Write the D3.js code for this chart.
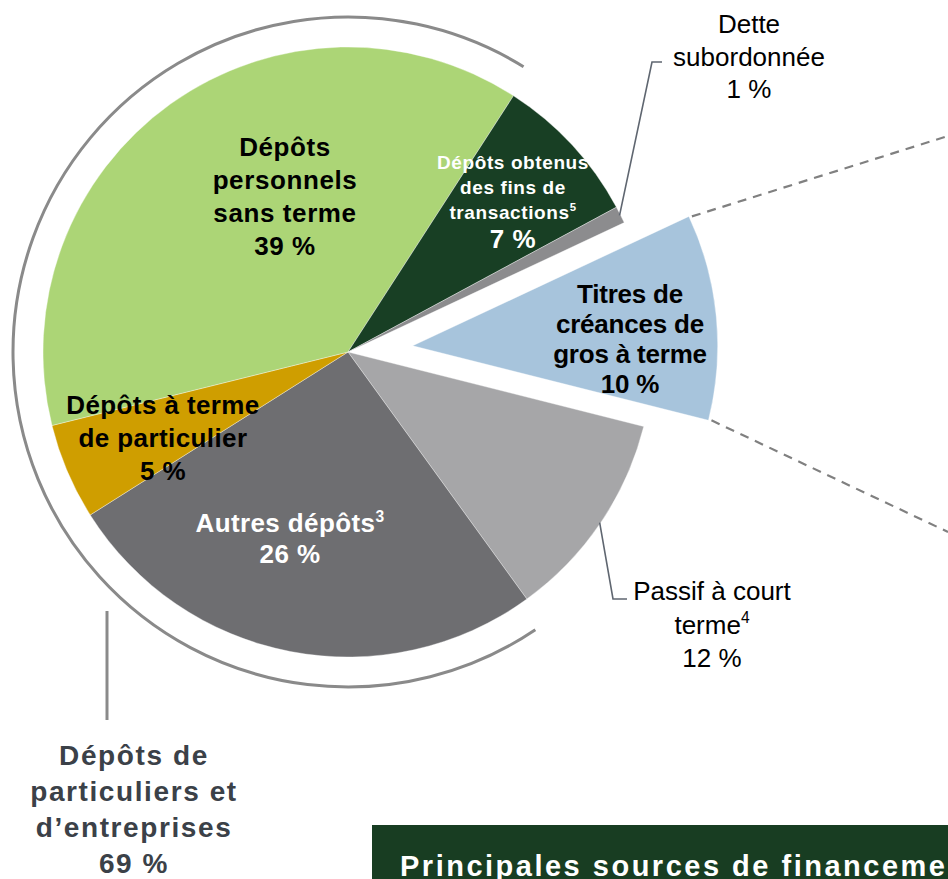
<!DOCTYPE html>
<html>
<head>
<meta charset="utf-8">
<script src="https://cdn.jsdelivr.net/npm/d3@7"></script>
<style>
  html, body { margin: 0; padding: 0; background: #fff; }
  svg { display: block; font-family: "Liberation Sans", Arial, sans-serif; }
</style>
</head>
<body>
<svg id="funding-pie" width="948" height="879"></svg>
<script>
// Funding mix pie - slices in drawing order, clockwise from the exploded one
const categories = ["Titres de créances de gros à terme", "Passif à court terme", "Autres dépôts",
  "Dépôts à terme de particulier", "Dépôts personnels sans terme",
  "Dépôts obtenus des fins de transactions", "Dette subordonnée"];
const sliceShares = [10.9, 11.1, 26, 5.1, 38, 8, 0.9];   // share of the circle as drawn
const percentLabels = ["10 %", "12 %", "26 %", "5 %", "39 %", "7 %", "1 %"];
const footnotes = [null, "4", "3", null, null, "5", null];
const sliceColors = ["#a7c4dc", "#a6a6a8", "#6e6e71", "#cf9e00", "#acd576", "#183f24", "#8c8c8e"];
const groupLabel = ["Dépôts de", "particuliers et", "d’entreprises", "69 %"];
const footerTitle = "Principales sources de financement";

const svg = d3.select("#funding-pie");
const cx = 348, cy = 352, R = 305, explode = 65;
const deg = Math.PI / 180;
const start = 64.9 * deg;

const pie = d3.pie().value(d => d).sort(null).startAngle(start).endAngle(start + 2 * Math.PI);
const arc = d3.arc().innerRadius(0).outerRadius(R);
const pieData = pie(sliceShares);

function offsetOf(d, i) {
  if (i !== 0) return [0, 0];
  const mid = (d.startAngle + d.endAngle) / 2;
  return [explode * Math.sin(mid), -explode * Math.cos(mid)];
}
function pointAt(a, r, off) {
  return [cx + off[0] + r * Math.sin(a), cy + off[1] - r * Math.cos(a)];
}

const g = svg.append("g");
g.selectAll("path.slice").data(pieData).enter().append("path")
  .attr("class", "slice")
  .attr("transform", (d, i) => { const o = offsetOf(d, i); return `translate(${cx + o[0]},${cy + o[1]})`; })
  .attr("d", arc)
  .attr("fill", (d, i) => sliceColors[i])
  .attr("stroke", "#fff").attr("stroke-width", 0.6).attr("stroke-opacity", 0.6);

// dashed lines from the exploded slice towards the right
const ex = pieData[0], exOff = offsetOf(ex, 0);
const dashTargets = [[948, 136], [948, 532]];
[ex.startAngle, ex.endAngle].forEach((a, k) => {
  const p = pointAt(a, R, exOff);
  svg.append("line").attr("x1", p[0] + 3).attr("y1", p[1]).attr("x2", dashTargets[k][0]).attr("y2", dashTargets[k][1])
    .attr("stroke", "#808080").attr("stroke-width", 2.2).attr("stroke-dasharray", "9,7");
});

// bracket arc around the deposit slices
const bracket = d3.arc().innerRadius(335).outerRadius(335).startAngle(146 * deg).endAngle(391.6 * deg);
svg.append("path").attr("transform", `translate(${cx},${cy})`).attr("d", bracket)
  .attr("fill", "none").attr("stroke", "#8a8a8a").attr("stroke-width", 3);
svg.append("line").attr("x1", 107).attr("y1", 611).attr("x2", 107).attr("y2", 720)
  .attr("stroke", "#8a8a8a").attr("stroke-width", 3);

// leader lines for outside labels
function leader(i, pts) {
  const d = pieData[i];
  const p = pointAt((d.startAngle + d.endAngle) / 2, R - 1, [0, 0]);
  svg.append("polyline").attr("points", [p].concat(pts).map(q => q.join(",")).join(" "))
    .attr("fill", "none").attr("stroke", "#5f6670").attr("stroke-width", 1.6);
}
leader(6, [[652, 62], [662, 62]]);
leader(1, [[613, 599], [627, 599]]);

// label layout: x, first baseline, line step, font size, weight, colour, letter-spacing
const labelLayout = [
  { x: 630, y: 303, step: 30, size: 26, weight: "bold", fill: "#000", ls: -0.2, lines: ["Titres de", "créances de", "gros à terme"] },
  { x: 712, y: 600, step: 33.5, size: 26, weight: "normal", fill: "#000", ls: 0, lines: ["Passif à court", "terme"] },
  { x: 290, y: 532, step: 31, size: 26, weight: "bold", fill: "#fff", ls: 0.4, lines: ["Autres dépôts"] },
  { x: 163, y: 414, step: 33, size: 26, weight: "bold", fill: "#000", ls: 0.4, lines: ["Dépôts à terme", "de particulier"] },
  { x: 285, y: 156, step: 33, size: 26, weight: "bold", fill: "#000", ls: 0.6, lines: ["Dépôts", "personnels", "sans terme"] },
  { x: 513, y: 169, step: 25, size: 19, weight: "bold", fill: "#fff", ls: 0.6, lines: ["Dépôts obtenus", "des fins de", "transactions"], pctSize: 26, pctStep: 29 },
  { x: 749, y: 33, step: 32.5, size: 26, weight: "normal", fill: "#000", ls: 0, lines: ["Dette", "subordonnée"] }
];

labelLayout.forEach((L, i) => {
  const t = svg.append("text").attr("text-anchor", "middle")
    .attr("font-weight", L.weight).attr("fill", L.fill).attr("letter-spacing", L.ls);
  L.lines.forEach((line, k) => {
    t.append("tspan").attr("x", L.x).attr("y", L.y + k * L.step).attr("font-size", L.size).text(line);
    if (k === L.lines.length - 1 && footnotes[i]) {
      t.append("tspan").attr("font-size", L.size * 0.6).attr("dy", -L.size * 0.4).text(footnotes[i]);
    }
  });
  const yPct = L.y + (L.lines.length - 1) * L.step + (L.pctStep || L.step);
  t.append("tspan").attr("x", L.x).attr("y", yPct).attr("font-size", L.pctSize || L.size).text(percentLabels[i]);
});

// group label under the bracket
const gl = svg.append("text").attr("text-anchor", "middle").attr("font-weight", "bold")
  .attr("fill", "#3b4148").attr("font-size", 28).attr("letter-spacing", 1.6);
groupLabel.forEach((line, k) => gl.append("tspan").attr("x", 134).attr("y", 765 + k * 36).text(line));

// footer title box (runs off the right edge, as in the source slide)
svg.append("rect").attr("x", 372).attr("y", 825).attr("width", 600).attr("height", 60).attr("fill", "#183d22");
svg.append("text").attr("x", 400).attr("y", 876).attr("fill", "#fff").attr("font-weight", "bold")
  .attr("font-size", 29).attr("letter-spacing", 2.5).text(footerTitle);
</script>
</body>
</html>
